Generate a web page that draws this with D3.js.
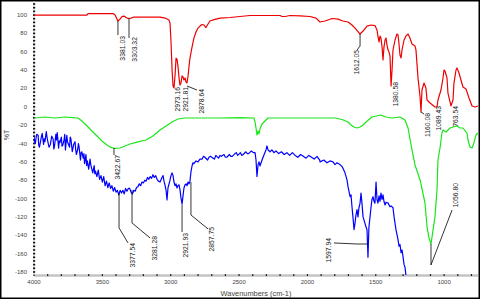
<!DOCTYPE html>
<html>
<head>
<meta charset="utf-8">
<script src="https://cdn.jsdelivr.net/npm/d3@7"></script>
<style>
  html, body { margin: 0; padding: 0; background: #fff; }
  svg { display: block; font-family: "Liberation Sans", Arial, sans-serif; }
</style>
</head>
<body>
<div id="chart"></div>
<script>
// IR spectra, three samples: [wavenumber, %T]
const redSpectrum = [[4000,100],[3612,100],[3605,101.6],[3422,101.6],[3407,100],[3393,95.6],[3386,93.5],[3371,95.6],[3356,98.4],[3342,98.9],[3327,97.3],[3312,96.2],[3290,96.7],[3269,97.8],[3078,97.8],[3042,96.7],[3027,95.6],[3012,94.5],[3005,91],[2998,72],[2990,40],[2983,22.7],[2976,20.5],[2968,34.6],[2961,53],[2954,52],[2947,44.4],[2939,31.4],[2932,23.7],[2925,26],[2917,33.6],[2910,32.5],[2903,29.2],[2895,31.4],[2888,27],[2881,26],[2873,33.6],[2866,44.4],[2859,53],[2844,65],[2830,75],[2815,81.5],[2800,85.8],[2786,88],[2771,89.7],[2756,89.1],[2742,86.4],[2727,90.2],[2713,93.5],[2683,95],[2639,96.7],[2566,97.3],[2493,98.4],[2420,99.5],[2310,99.5],[2200,99.5],[2186,98.4],[2164,98.4],[2127,99.5],[2054,99.1],[1981,98.4],[1937,96.7],[1908,92.4],[1871,93.5],[1820,96.2],[1776,95.6],[1740,93.5],[1703,92.4],[1674,89.1],[1645,84.7],[1615,79.3],[1593,82.6],[1564,88],[1535,89.1],[1506,88.6],[1491,83.7],[1484,77.1],[1476,70.6],[1469,77.1],[1462,75],[1454,65],[1447,51],[1440,65],[1432,72.8],[1425,75],[1418,67.3],[1410,61.9],[1403,59.7],[1396,55.3],[1388,22.7],[1381,40],[1374,61.9],[1359,72.8],[1345,79.3],[1337,78.2],[1330,68.4],[1323,56.4],[1315,53.2],[1308,61.9],[1293,72.8],[1279,77.1],[1264,79.3],[1250,75],[1235,68.4],[1213,66.2],[1206,62],[1191,31.4],[1176,10.7],[1169,-5.7],[1162,18.3],[1147,25.9],[1133,20.5],[1125,7.4],[1103,4.1],[1067,-0.2],[1052,-0.2],[1045,7.4],[1023,18.3],[1008,31.4],[1001,40.1],[994,39],[979,31.4],[972,15],[950,0.9],[935,7.4],[928,25.9],[913,40.1],[906,42.3],[891,36.8],[877,29.2],[862,21.6],[840,19.4],[818,9.6],[796,0.9],[774,-0.2],[752,0.9]];

const greenSpectrum = [[4000,-12.2],[3920,-11.1],[3846,-12.2],[3773,-11.1],[3715,-11.7],[3678,-12.2],[3649,-15.5],[3612,-20.9],[3576,-26.4],[3539,-31.8],[3503,-37.3],[3466,-41.6],[3437,-44.3],[3407,-45.4],[3371,-44.9],[3334,-42.7],[3298,-40.5],[3239,-38.3],[3181,-36.2],[3130,-31.8],[3078,-25.3],[3034,-20.9],[2990,-16.6],[2947,-13.3],[2895,-12.2],[2786,-12.2],[2639,-12.2],[2493,-11.7],[2391,-12.2],[2383,-16.6],[2376,-23.1],[2369,-30.7],[2361,-26.4],[2354,-29.6],[2347,-24.2],[2332,-18.7],[2310,-15.5],[2288,-12.2],[2127,-12.2],[1908,-12.2],[1798,-12.2],[1747,-13.8],[1703,-16.6],[1681,-19.8],[1659,-22],[1637,-23.1],[1615,-22],[1593,-19.8],[1571,-16.6],[1528,-11.1],[1462,-8.9],[1425,-11.1],[1381,-12.2],[1323,-11.1],[1286,-14.4],[1264,-23.1],[1235,-47],[1213,-63.4],[1176,-79.7],[1140,-104.8],[1125,-130.9],[1111,-142.9],[1096,-149.5],[1081,-134.2],[1067,-120],[1052,-90.6],[1045,-58],[1030,-44.9],[1016,-28.6],[1008,-25.3],[986,-27.5],[957,-23.1],[935,-22],[906,-20.9],[884,-23.1],[862,-23.1],[833,-28.6],[825,-36.2],[811,-43.8],[796,-44.9],[782,-39.4],[767,-30.7],[752,-28.6]];

const blueSpectrum = [[4000,-33],[3995,-38],[3990,-40],[3985,-34],[3980,-30],[3970,-31],[3965,-42],[3960,-44],[3950,-36],[3945,-32],[3940,-29],[3930,-41],[3925,-35],[3920,-38],[3910,-27],[3905,-33],[3900,-37],[3890,-44],[3880,-41],[3875,-36],[3870,-32],[3860,-35],[3855,-46],[3850,-43],[3840,-30],[3835,-36],[3830,-28],[3820,-45],[3815,-37],[3810,-39],[3800,-33],[3795,-43],[3790,-42],[3780,-36],[3775,-30],[3770,-47],[3760,-31],[3755,-38],[3750,-40],[3740,-44],[3735,-33],[3730,-35],[3720,-49],[3715,-45],[3710,-41],[3700,-38],[3695,-47],[3690,-52],[3680,-46],[3675,-40],[3670,-44],[3660,-58],[3655,-50],[3650,-49],[3640,-56],[3635,-51],[3630,-62],[3620,-52],[3615,-64],[3610,-59],[3600,-68],[3590,-57],[3585,-63],[3580,-66],[3570,-72],[3560,-64],[3555,-73],[3550,-70],[3540,-76],[3530,-69],[3520,-79],[3510,-75],[3500,-82],[3490,-76],[3480,-86],[3470,-81],[3460,-88],[3450,-83],[3440,-89],[3430,-86],[3420,-92],[3410,-88],[3400,-93],[3390,-91],[3380,-96],[3370,-91],[3360,-94],[3350,-91],[3340,-95],[3330,-89],[3320,-92],[3310,-89],
  [3300,-89],[3290,-93],[3280,-95],[3270,-91],[3260,-92],[3250,-88],[3240,-87],[3230,-84],[3220,-86],[3210,-82],[3200,-83],[3190,-80],[3180,-81],[3170,-77],[3160,-79],[3150,-76],[3140,-78],[3130,-74],[3120,-77],[3110,-75],[3100,-79],[3090,-81],
  [3078,-82],[3064,-77],[3056,-75],[3049,-81],[3042,-85],[3034,-91],[3027,-101.5],[3020,-88.5],[3005,-80],[2998,-75],[2990,-72],[2983,-75],[2976,-82],[2968,-86],[2961,-84],[2954,-88.5],[2947,-86],[2939,-85],[2932,-90.6],[2925,-99],[2917,-106],[2910,-97],[2903,-88.5],[2895,-85],[2888,-84],[2881,-86],[2873,-82],[2866,-84],[2859,-81],[2852,-71],[2844,-64.5],[2837,-61],[2830,-62],[2815,-59],[2800,-60],[2786,-57],
  [2770,-57],[2760,-54],[2750,-55],[2730,-58],[2720,-55],[2710,-54],[2690,-56],[2680,-57],[2670,-53],[2650,-56],[2640,-53],[2630,-54],[2610,-52],[2600,-55],[2590,-55],[2570,-52],[2560,-54],[2550,-54],[2530,-51],[2520,-50],[2510,-53],[2490,-50],[2480,-53],[2470,-52],[2450,-49],[2440,-51],[2430,-51],[2410,-48],[2395,-50],[2383,-50],[2376,-58],[2369,-76],[2361,-63],[2354,-60],[2347,-64.5],[2332,-58],[2318,-52.5],[2303,-47],[2296,-42.7],[2288,-47],[2274,-49],[2260,-47],[2245,-50],[2230,-48],[2210,-51],[2190,-49],[2170,-52],[2150,-50],[2130,-53],[2110,-50],[2090,-53],[2070,-55],[2050,-52],[2030,-54],[2010,-56],[1990,-53],[1970,-55],[1950,-57],[1930,-54],[1910,-58],
  [1908,-60],[1880,-58],[1857,-61],[1835,-59],[1813,-60],[1798,-63],[1784,-61],[1762,-63],[1747,-65],[1740,-67],[1725,-72],[1710,-80],[1703,-87],[1688,-98],[1681,-96],[1674,-109],[1667,-120],[1659,-134],[1652,-127],[1645,-118],[1637,-112],[1630,-120],[1623,-110],[1615,-105],[1608,-94],[1601,-105],[1593,-120],[1579,-127],[1571,-131],[1564,-134],[1557,-164],[1550,-131],[1542,-120],[1535,-110],[1528,-101],[1520,-98],[1513,-103],[1506,-105],[1498,-82],[1491,-101],[1484,-105],[1476,-97],[1469,-103],[1462,-94],[1454,-101],[1447,-96],[1440,-103],[1432,-107],[1425,-104],[1410,-105],[1396,-109],[1388,-108],[1374,-110],[1366,-120],[1359,-127],[1352,-134],[1345,-139],[1337,-145],[1330,-152],[1323,-150],[1315,-159],[1308,-156],[1301,-163],[1293,-172],[1286,-175],[1279,-184],[1271,-195]];

// Peak labels: text, leader polyline [wn, %T], text top [wn, %T]
const peakLabels = [
  { text: "3381.03", leader: [[3386,93.5],[3386,78.2]], at: [3356,77.1] },
  { text: "3303.32", leader: [[3305,96.7],[3305,75]], at: [3268,76] },
  { text: "2973.16", leader: [], at: [2947,21.6] },
  { text: "2921.81", leader: [], at: [2895,21.6] },
  { text: "2878.64", leader: [[2881,22.7],[2808,18.3]], at: [2778,19.4] },
  { text: "1612.05", leader: [[1615,79.3],[1615,66.2],[1637,61.9]], at: [1641,62] },
  { text: "1380.58", leader: [], at: [1359,27] },
  { text: "1160.08", leader: [[1169,-5.7],[1147,-7.9]], at: [1125,-6.8] },
  { text: "1089.43", leader: [], at: [1040,0.9] },
  { text: "763.54", leader: [], at: [918,0.9] },
  { text: "3422.67", leader: [[3415,-44.9],[3415,-52.5]], at: [3386,-52.5] },
  { text: "1056.80", leader: [[1096,-149.5],[1096,-172.4],[942,-112.5]], at: [920,-83] },
  { text: "3377.54", leader: [[3378,-93.9],[3378,-132],[3312,-148.4]], at: [3276,-148.4] },
  { text: "3281.28", leader: [[3283,-90.6],[3283,-126.6],[3151,-142.9]], at: [3115,-140.7] },
  { text: "2921.93", leader: [[2917,-107],[2917,-136.4]], at: [2892,-137.5] },
  { text: "2857.75", leader: [[2852,-81.9],[2852,-117.9],[2727,-133.1]], at: [2698,-130.9] },
  { text: "1597.94", leader: [[1557,-149.5],[1637,-149.5],[1806,-148.4]], at: [1846,-142.9] }
];

const xTicks = [4000, 3500, 3000, 2500, 2000, 1500, 1000];
const yTicks = [100, 80, 60, 40, 20, 0, -20, -40, -60, -80, -100, -120, -140, -160, -180];

const width = 480, height = 300;
const svg = d3.select("#chart").append("svg")
  .attr("width", width).attr("height", height);

const x = d3.scaleLinear().domain([4000, 750]).range([34, 478.3]);
const y = d3.scaleLinear().domain([-183.3, 115.3]).range([275, 1]);

// outer frame
svg.append("rect")
  .attr("x", 0.75).attr("y", 0.75)
  .attr("width", 478.5).attr("height", 297.5)
  .attr("fill", "none").attr("stroke", "#000").attr("stroke-width", 1.5);

// clip for the curves
svg.append("clipPath").attr("id", "plot")
  .append("rect").attr("x", 34).attr("y", 1).attr("width", 444.5).attr("height", 274);

// x axis: grey bar with small black ticks
svg.append("line")
  .attr("x1", 34).attr("x2", 478).attr("y1", 275.5).attr("y2", 275.5)
  .attr("stroke", "#c4c4c4").attr("stroke-width", 2.5);
svg.selectAll(".xminor").data(d3.range(4000, 751, -100)).enter()
  .append("rect")
  .attr("x", d => x(d) - 0.6).attr("y", 274.2)
  .attr("width", 1.2).attr("height", 1.8).attr("fill", "#111");
svg.selectAll(".xlab").data(xTicks).enter()
  .append("text")
  .attr("x", d => x(d)).attr("y", 281.5)
  .attr("text-anchor", "middle").attr("dominant-baseline", "central")
  .attr("font-size", "6px").attr("fill", "#444")
  .text(d => d);

// y axis: dotted line
svg.append("line")
  .attr("x1", 34).attr("x2", 34).attr("y1", 1).attr("y2", 275)
  .attr("stroke", "#c8c8c8").attr("stroke-width", 1);
svg.selectAll(".yminor").data(d3.range(-180, 115, 4)).enter()
  .append("rect")
  .attr("x", 33).attr("y", d => y(d) - 0.8)
  .attr("width", 2.2).attr("height", 1.6).attr("fill", "#111");
svg.selectAll(".ylab").data(yTicks).enter()
  .append("text")
  .attr("x", 27).attr("y", d => y(d))
  .attr("text-anchor", "end").attr("dominant-baseline", "central")
  .attr("font-size", "6px").attr("fill", "#444")
  .text(d => d);

// axis titles
svg.append("text")
  .attr("x", 256).attr("y", 293.5)
  .attr("text-anchor", "middle").attr("dominant-baseline", "central")
  .attr("font-size", "7.4px").attr("fill", "#444")
  .text("Wavenumbers (cm-1)");
svg.append("text")
  .attr("transform", "translate(6,135) rotate(-90)")
  .attr("text-anchor", "middle").attr("dominant-baseline", "central")
  .attr("font-size", "7px").attr("fill", "#444")
  .text("%T");

// spectra
const line = d3.line().x(d => x(d[0])).y(d => y(d[1]));
const curves = svg.append("g").attr("clip-path", "url(#plot)");
[[greenSpectrum, "#19e619"], [blueSpectrum, "#0000ff"], [redSpectrum, "#ee0000"]].forEach(([data, color]) => {
  curves.append("path")
    .datum(data)
    .attr("d", line)
    .attr("fill", "none")
    .attr("stroke", color)
    .attr("stroke-width", 1.2)
    .attr("stroke-linejoin", "round");
});

// peak labels
peakLabels.forEach(p => {
  if (p.leader.length > 1) {
    svg.append("path")
      .datum(p.leader)
      .attr("d", line)
      .attr("fill", "none").attr("stroke", "#000").attr("stroke-width", 0.8);
  }
  svg.append("text")
    .attr("transform", `translate(${x(p.at[0])},${y(p.at[1])}) rotate(-90)`)
    .attr("text-anchor", "end").attr("dominant-baseline", "central")
    .attr("font-size", "6.8px").attr("fill", "#222")
    .text(p.text);
});
</script>
</body>
</html>
